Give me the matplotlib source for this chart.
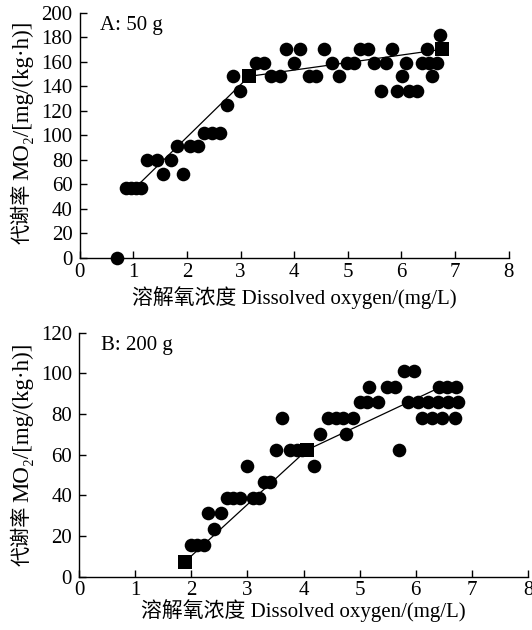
import numpy as np
import matplotlib
matplotlib.use("Agg")
import matplotlib.pyplot as plt

plt.rcParams['font.family'] = ['Liberation Serif', 'Noto Sans CJK SC']

# DATA  (A: 50 g)
xa = [0.70,
      0.87, 0.96, 1.05, 1.14,
      1.56, 1.93,
      1.26, 1.44, 1.70,
      1.82, 2.06, 2.20,
      2.32, 2.46, 2.61,
      2.74,
      2.99, 5.62, 5.92, 6.15, 6.29,
      2.86, 3.56, 3.73, 4.27, 4.41, 4.83, 6.01, 6.57,
      3.29, 3.44, 4.00, 4.70, 4.98, 5.12, 5.49, 5.72, 6.09, 6.38, 6.52, 6.66,
      3.84, 4.11, 4.55, 5.23, 5.37, 5.82, 6.48,
      6.72]
ya = [0,
      57, 57, 57, 57,
      68, 68,
      80, 80, 80,
      91, 91, 91,
      102, 102, 102,
      125,
      136, 136, 136, 136, 136,
      148, 148, 148, 148, 148, 148, 148, 148,
      159, 159, 159, 159, 159, 159, 159, 159, 159, 159, 159, 159,
      170, 170, 170, 170, 170, 170, 170,
      182]
sq_xa = [3.16, 6.75]
sq_ya = [148, 170]
fit_xa = [1.0, 3.16, 6.75]
fit_ya = [55.5, 148, 170]

# DATA  (B: 200 g)
xb = [1.99, 2.10, 2.22,
      2.41,
      2.29, 2.53,
      2.63, 2.75, 2.87, 3.10, 3.21,
      3.29, 3.40,
      2.99, 4.18,
      3.51, 3.76, 3.89, 3.98, 5.71,
      4.30, 4.76,
      3.61, 4.44, 4.58, 4.71, 4.88, 6.11, 6.29, 6.47, 6.70,
      5.00, 5.14, 5.33, 5.86, 6.04, 6.22, 6.40, 6.57, 6.75,
      5.17, 5.49, 5.63, 6.42, 6.55, 6.72,
      5.79, 5.96]
yb = [15.5, 15.5, 15.5,
      23.3,
      31.2, 31.2,
      38.8, 38.8, 38.8, 38.8, 38.8,
      46.7, 46.7,
      54.6, 54.6,
      62.3, 62.3, 62.3, 62.3, 62.3,
      70.0, 70.0,
      77.9, 77.9, 77.9, 77.9, 77.9, 77.9, 77.9, 77.9, 77.9,
      85.8, 85.8, 85.8, 85.8, 85.8, 85.8, 85.8, 85.8, 85.8,
      93.5, 93.5, 93.5, 93.5, 93.5, 93.5,
      101.2, 101.2]
sq_xb = [1.89, 4.06]
sq_yb = [7.4, 62.3]
fit_xb = [1.89, 4.06, 6.5]
fit_yb = [7.4, 62.3, 94.0]

xlabel = '溶解氧浓度 Dissolved oxygen/(mg/L)'
ylabel_cn = '代谢率'
ylabel_en = 'MO₂/[mg/(kg·h)]'
fs = 15

W, H = 532, 630
fig = plt.figure(figsize=(W / 100, H / 100), dpi=100)
ax1 = fig.add_axes([0.1496, 0.591, 0.8066, 0.3889])
ax2 = fig.add_axes([0.1485, 0.0846, 0.844, 0.3873])

panels = [
    (ax1, xa, ya, sq_xa, sq_ya, fit_xa, fit_ya, 'A: 50 g', (0, 200), np.arange(0, 201, 20), 244, 4, 3),
    (ax2, xb, yb, sq_xb, sq_yb, fit_xb, fit_yb, 'B: 200 g', (0, 120), np.arange(0, 121, 20), 566, 3, -0.5),
]

renderer = fig.canvas.get_renderer()

for ax, x, y, sx, sy, fx, fy, tag, ylim, yt, lab_bottom, tpad, xpad in panels:
    ax.plot(fx, fy, '-', color='black', lw=0.9, zorder=2)
    ax.plot(x, y, 'o', color='black', ms=9.8, mew=0, zorder=3, clip_on=False)
    ax.plot(sx, sy, 's', color='black', ms=9.4, mew=0, zorder=3, clip_on=False)
    ax.set_xlim(0, 8)
    ax.set_ylim(*ylim)
    ax.set_xticks(range(0, 9))
    ax.set_yticks(yt)
    ax.spines['top'].set_visible(False)
    ax.spines['right'].set_visible(False)
    for s in ('left', 'bottom'):
        ax.spines[s].set_linewidth(1.0)
    ax.tick_params(direction='in', length=5, width=1.0, labelsize=fs)
    ax.tick_params(axis='x', pad=tpad)
    ax.tick_params(axis='y', pad=5)
    ax.set_xlabel(xlabel, fontsize=fs, labelpad=xpad)
    ax.text(0.048, 0.985, tag, transform=ax.transAxes, fontsize=fs,
            ha='left', va='top')

    # y label in two parts: Chinese and Latin sized separately
    t_cn = fig.text(23 / W, 1 - lab_bottom / H, ylabel_cn, rotation=90,
                    ha='center', va='bottom', fontsize=14.5)
    bb = t_cn.get_window_extent(renderer)
    fig.text(23 / W, (bb.y1 + 4) / H, ylabel_en, rotation=90,
             ha='center', va='bottom', fontsize=16.5)

fig.savefig('out.png', dpi=100)
